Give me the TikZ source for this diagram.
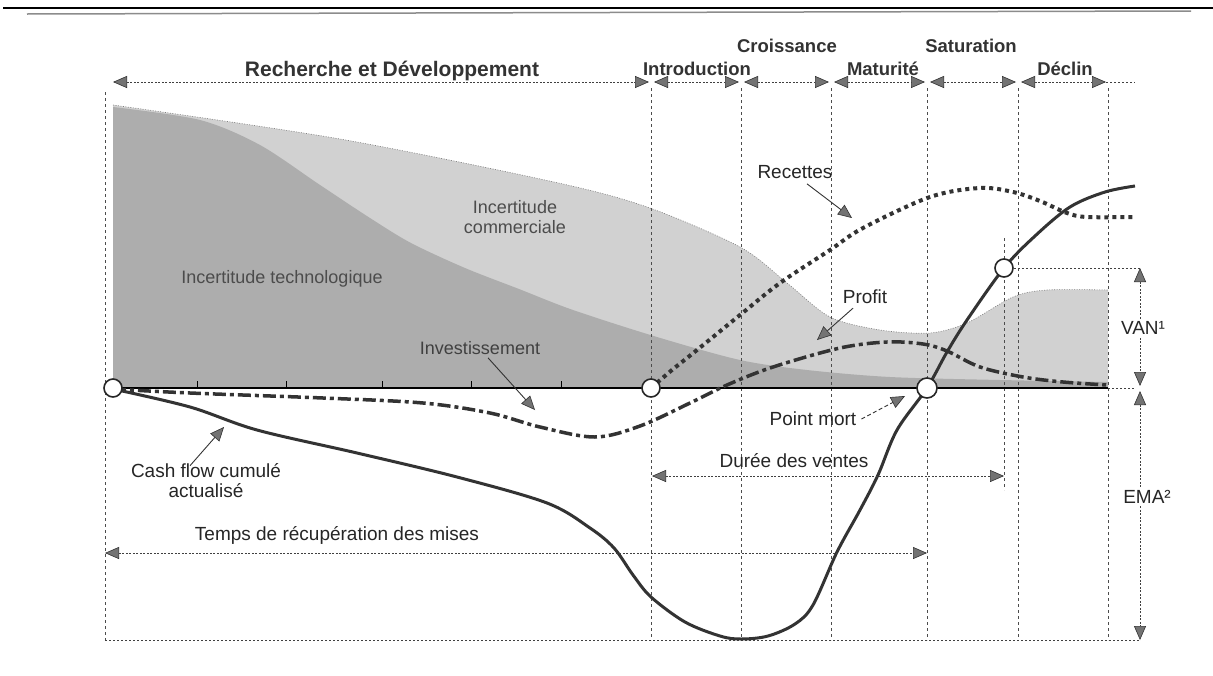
\documentclass[tikz,border=0pt]{standalone}
\usepackage{fontspec}
\setmainfont{Liberation Sans}
\usetikzlibrary{arrows.meta}
\tikzset{
  gtip/.tip={Triangle[length=14pt,width=12pt,color=black!80,fill=black!55,line width=0.6pt]},
  dim/.style={draw=black!75,line width=0.9pt,dash pattern=on 2pt off 1.5pt,gtip-gtip},
  dimline/.style={draw=black!75,line width=0.9pt,dash pattern=on 2pt off 2pt},
  vline/.style={draw=black!70,line width=0.8pt,dash pattern=on 3pt off 3pt},
  lbl/.style={font=\fontsize{19}{21}\selectfont,text=black!85,inner sep=1pt},
  phase/.style={font=\bfseries\fontsize{18.5}{22}\selectfont,text=black!80,inner sep=1pt},
  ptr/.style={draw=black!80,line width=0.9pt,-gtip},
  dptr/.style={draw=black!80,line width=0.9pt,dash pattern=on 4pt off 2.5pt,-gtip},
  dot/.style={circle,draw=black!85,fill=white,line width=1.6pt,minimum size=18pt,inner sep=0pt},
  cash/.style={draw=black!80,line width=3pt},
  invest/.style={draw=black!80,line width=3.5pt,dash pattern=on 13pt off 4pt on 4pt off 4pt},
  rec/.style={draw=black!80,line width=4pt,dash pattern=on 4pt off 4pt},
  unc/.style={font=\fontsize{18}{20}\selectfont,text=black!70,inner sep=1pt},
}
\begin{document}
\begin{tikzpicture}[x=1pt,y=-1pt]
\fill[white] (0,0) rectangle (1213,675);
\useasboundingbox (0,0) rectangle (1213,675);
% page rules
\draw[line width=2.5pt] (3,8) -- (1213,8);
\draw[black!45,line width=1.5pt] (27,14) -- (1191,11);
% shaded areas
\fill[black!18] plot[smooth,tension=0.5] coordinates {(113,105) (340,139) (554,182) (647,207) (740,247) (787,283) (830,317) (880,330) (930,333) (967,323) (1013,297) (1047,290) (1108,290)} -- (1108,388) -- (113,388) -- cycle;
\draw[black!50,line width=0.6pt,dash pattern=on 1pt off 1.5pt] plot[smooth,tension=0.5] coordinates {(113,105) (340,139) (554,182) (647,207) (740,247) (787,283) (830,317) (880,330) (930,333) (967,323) (1013,297) (1047,290) (1108,290)};
\fill[black!32] plot[smooth,tension=0.5] coordinates {(113,107) (200,120) (260,145) (320,185) (370,218) (411,243) (465,268) (519,289) (573,310) (657,337) (740,360) (807,370) (890,377) (1000,380) (1108,382)} -- (1108,388) -- (113,388) -- cycle;
% vertical guides
\foreach \x in {651,741,831,927,1018,1108} \draw[vline] (\x,88) -- (\x,640);
\draw[vline] (105,92) -- (105,640);
\draw[vline] (1004,238) -- (1004,490);
\draw[dimline] (105,640) -- (1140,640);
% axis and ticks
\foreach \x in {197,286,382,471,561} \draw[line width=0.8pt] (\x,381) -- (\x,388);
\draw[line width=1.5pt] (113,388) -- (1108,388);
% top phase arrows
\coordinate (a0) at (113,82);
\coordinate (a1) at (649,82);
\coordinate (a2) at (654,82);
\coordinate (a3) at (739,82);
\coordinate (a4) at (744,82);
\coordinate (a5) at (829,82);
\coordinate (a6) at (834,82);
\coordinate (a7) at (925,82);
\coordinate (a8) at (930,82);
\coordinate (a9) at (1016,82);
\coordinate (a10) at (1021,82);
\coordinate (a11) at (1106,82);
\coordinate (a12) at (1135,82);
\draw[dim] (a0) -- (a1);
\draw[dim] (a2) -- (a3);
\draw[dim] (a4) -- (a5);
\draw[dim] (a6) -- (a7);
\draw[dim] (a8) -- (a9);
\draw[dim] (a10) -- (a11);
\draw[dimline] (a11) -- (a12);
\node[font=\bfseries\fontsize{21}{24}\selectfont,text=black!80] (rd) at (392,71) {Recherche et Développement};
\node[phase] (intro) at (697,69) {Introduction};
\node[phase] (crois) at (787,46) {Croissance};
\node[phase] (matu) at (883,69) {Maturité};
\node[phase] (satu) at (971,46) {Saturation};
\node[phase] (decl) at (1065,69) {Déclin};
% uncertainty labels
\node[unc] (ut) at (282,279) {Incertitude technologique};
\node[unc,align=center] (uc) at (515,217) {Incertitude\\commerciale};
% curves
\draw[cash] plot[smooth,tension=0.55] coordinates {(113,389) (190,407) (257,430) (357,453) (457,477) (547,503) (590,528) (614,548) (633,575) (651,597) (685,622) (720,636) (741,639) (768,636) (795,624) (813,605) (837,552) (860,510) (878,475) (897,430) (927,388) (947,352) (967,320) (1004,268) (1035,236) (1070,207) (1105,192) (1135,186)};
\draw[invest] plot[smooth,tension=0.55] coordinates {(113,389) (190,393) (323,398) (423,403) (490,413) (540,427) (595,437) (640,426) (690,403) (727,385) (773,367) (840,348) (887,342) (923,344) (947,351) (980,367) (1023,377) (1063,382) (1107,385)};
\draw[rec] plot[smooth,tension=0.55] coordinates {(651,388) (672,370) (697,350) (740,315) (780,283) (830,250) (863,228) (930,197) (980,188) (1013,192) (1040,201) (1067,213) (1087,217) (1135,217)};
% circles
\node[dot] (c1) at (113,388) {};
\node[dot] (c2) at (651,388) {};
\node[dot,minimum size=20pt] (c3) at (927,388) {};
\node[dot] (c4) at (1004,268) {};
% labels and pointers
\node[lbl] (lrec) at (795,172) {Recettes};
\coordinate (prec) at (852,218);
\draw[ptr] ([xshift=12pt,yshift=-4pt]lrec.south) -- (prec);
\node[lbl] (lprof) at (865,297) {Profit};
\coordinate (pprof) at (817,340);
\draw[ptr] ([xshift=-12pt,yshift=-3pt]lprof.south) -- (pprof);
\node[unc,text=black!75] (linv) at (480,348) {Investissement};
\coordinate (pinv) at (535,410);
\draw[ptr] ([xshift=8pt,yshift=-2pt]linv.south) -- (pinv);
\node[lbl,align=center,font=\fontsize{19}{20}\selectfont] (lcash) at (206,481) {Cash flow cumulé\\actualisé};
\coordinate (pcash) at (224,427);
\draw[ptr] ([xshift=-16pt,yshift=-3pt]lcash.north) -- (pcash);
\node[lbl] (lpm) at (813,419) {Point mort};
\coordinate (ppm) at (905,396);
\draw[dptr] ([xshift=4pt]lpm.east) -- (ppm);
% duration arrows
\node[lbl] (ldur) at (794,461) {Durée des ventes};
\coordinate (d1) at (652,476);
\coordinate (d2) at (1004,476);
\draw[dim] (d1) -- (d2);
\node[lbl] (ltemps) at (337,535) {Temps de récupération des mises};
\coordinate (e1) at (105,553);
\coordinate (e2) at (927,553);
\draw[dim] (e1) -- (e2);
% VAN / EMA
\coordinate (v1) at (1140,268);
\coordinate (v2) at (1140,386);
\coordinate (v3) at (1140,391);
\coordinate (v4) at (1140,640);
\draw[dimline] (c4) -- (v1);
\draw[dimline] (1108,388) -- (1135,388);
\draw[dim] (v1) -- (v2);
\draw[dim] (v3) -- (v4);
\node[lbl,fill=white] (lvan) at (1143,328) {VAN¹};
\node[lbl,fill=white] (lema) at (1147,497) {EMA²};
\end{tikzpicture}
\end{document}
